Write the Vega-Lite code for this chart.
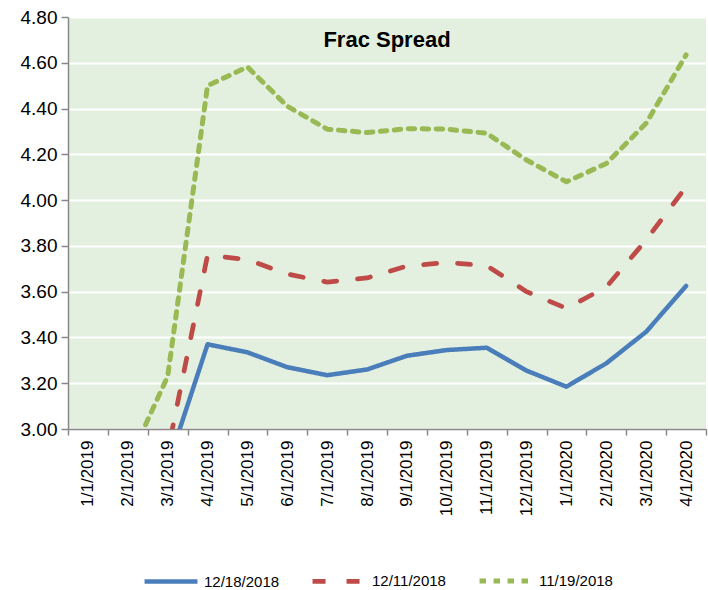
{
  "$schema": "https://vega.github.io/schema/vega-lite/v6.json",
  "width": 638,
  "height": 412,
  "autosize": {"type": "none"},
  "padding": {"left": 68, "top": 17, "right": 2, "bottom": 161},
  "background": "white",
  "config": {
    "view": {"fill": "#E3F0DF", "stroke": null},
    "font": "Liberation Sans"
  },
  "title": {"text": "Frac Spread", "fontSize": 22, "fontWeight": "bold", "offset": -44, "anchor": "middle", "color": "black", "font": "Liberation Sans"},
  "data": {
    "values": [
      {"month": "1/1/2019", "series": "12/18/2018", "value": 2.75},
      {"month": "2/1/2019", "series": "12/18/2018", "value": 2.78},
      {"month": "3/1/2019", "series": "12/18/2018", "value": 2.84},
      {"month": "4/1/2019", "series": "12/18/2018", "value": 3.37},
      {"month": "5/1/2019", "series": "12/18/2018", "value": 3.335},
      {"month": "6/1/2019", "series": "12/18/2018", "value": 3.27},
      {"month": "7/1/2019", "series": "12/18/2018", "value": 3.235},
      {"month": "8/1/2019", "series": "12/18/2018", "value": 3.26},
      {"month": "9/1/2019", "series": "12/18/2018", "value": 3.32},
      {"month": "10/1/2019", "series": "12/18/2018", "value": 3.345},
      {"month": "11/1/2019", "series": "12/18/2018", "value": 3.355},
      {"month": "12/1/2019", "series": "12/18/2018", "value": 3.255},
      {"month": "1/1/2020", "series": "12/18/2018", "value": 3.185},
      {"month": "2/1/2020", "series": "12/18/2018", "value": 3.287},
      {"month": "3/1/2020", "series": "12/18/2018", "value": 3.425},
      {"month": "4/1/2020", "series": "12/18/2018", "value": 3.625},
      {"month": "1/1/2019", "series": "12/11/2018", "value": 2.75},
      {"month": "2/1/2019", "series": "12/11/2018", "value": 2.8},
      {"month": "3/1/2019", "series": "12/11/2018", "value": 2.9},
      {"month": "4/1/2019", "series": "12/11/2018", "value": 3.76},
      {"month": "5/1/2019", "series": "12/11/2018", "value": 3.74},
      {"month": "6/1/2019", "series": "12/11/2018", "value": 3.677},
      {"month": "7/1/2019", "series": "12/11/2018", "value": 3.642},
      {"month": "8/1/2019", "series": "12/11/2018", "value": 3.66},
      {"month": "9/1/2019", "series": "12/11/2018", "value": 3.712},
      {"month": "10/1/2019", "series": "12/11/2018", "value": 3.727},
      {"month": "11/1/2019", "series": "12/11/2018", "value": 3.714},
      {"month": "12/1/2019", "series": "12/11/2018", "value": 3.6},
      {"month": "1/1/2020", "series": "12/11/2018", "value": 3.527},
      {"month": "2/1/2020", "series": "12/11/2018", "value": 3.62},
      {"month": "3/1/2020", "series": "12/11/2018", "value": 3.826},
      {"month": "4/1/2020", "series": "12/11/2018", "value": 4.058},
      {"month": "1/1/2019", "series": "11/19/2018", "value": 2.8},
      {"month": "2/1/2019", "series": "11/19/2018", "value": 2.85},
      {"month": "3/1/2019", "series": "11/19/2018", "value": 3.23},
      {"month": "4/1/2019", "series": "11/19/2018", "value": 4.5},
      {"month": "5/1/2019", "series": "11/19/2018", "value": 4.582},
      {"month": "6/1/2019", "series": "11/19/2018", "value": 4.41},
      {"month": "7/1/2019", "series": "11/19/2018", "value": 4.31},
      {"month": "8/1/2019", "series": "11/19/2018", "value": 4.295},
      {"month": "9/1/2019", "series": "11/19/2018", "value": 4.312},
      {"month": "10/1/2019", "series": "11/19/2018", "value": 4.31},
      {"month": "11/1/2019", "series": "11/19/2018", "value": 4.292},
      {"month": "12/1/2019", "series": "11/19/2018", "value": 4.175},
      {"month": "1/1/2020", "series": "11/19/2018", "value": 4.08},
      {"month": "2/1/2020", "series": "11/19/2018", "value": 4.16},
      {"month": "3/1/2020", "series": "11/19/2018", "value": 4.336},
      {"month": "4/1/2020", "series": "11/19/2018", "value": 4.634}
    ]
  },
  "mark": {"type": "line", "clip": true, "strokeCap": "round", "strokeJoin": "round"},
  "encoding": {
    "x": {
      "field": "month", "type": "ordinal", "sort": null, "bandPosition": 0.5,
      "scale": {"type": "band", "paddingInner": 0, "paddingOuter": 0},
      "axis": {"title": null, "labelAngle": -90, "tickBand": "extent", "labelFontSize": 17, "labelColor": "black", "domainColor": "#888888", "domainWidth": 1.5, "tickColor": "#888888", "tickWidth": 1.5, "tickSize": 6, "labelPadding": 5, "grid": false}
    },
    "y": {
      "field": "value", "type": "quantitative",
      "scale": {"domain": [3, 4.8], "nice": false, "zero": false},
      "axis": {"title": null, "format": ".2f", "values": [3, 3.2, 3.4, 3.6, 3.8, 4, 4.2, 4.4, 4.6, 4.8], "gridColor": "white", "gridWidth": 2, "domainColor": "#888888", "domainWidth": 1.5, "tickColor": "#888888", "tickWidth": 1.5, "tickSize": 7, "labelFontSize": 19, "labelColor": "black", "labelPadding": 4}
    },
    "color": {
      "field": "series", "type": "nominal",
      "scale": {"domain": ["12/18/2018", "12/11/2018", "11/19/2018"], "range": ["#4A7EBB", "#BE4B48", "#98B954"]},
      "legend": {"title": null, "orient": "none", "legendX": 74, "legendY": 535, "direction": "horizontal", "symbolType": "stroke", "symbolSize": 2800, "labelFontSize": 15, "labelColor": "black", "columnPadding": 23, "labelOffset": 4}
    },
    "strokeDash": {
      "field": "series", "type": "nominal",
      "scale": {"domain": ["12/18/2018", "12/11/2018", "11/19/2018"], "range": [[1, 0], [13, 21], [6.5, 7.5]]},
      "legend": {"title": null, "orient": "none", "legendX": 74, "legendY": 535, "direction": "horizontal", "symbolType": "stroke", "symbolSize": 2800, "labelFontSize": 15, "labelColor": "black", "columnPadding": 23, "labelOffset": 4}
    },
    "strokeWidth": {
      "field": "series", "type": "nominal",
      "scale": {"domain": ["12/18/2018", "12/11/2018", "11/19/2018"], "range": [4.5, 5, 3.5]},
      "legend": {"title": null, "orient": "none", "legendX": 74, "legendY": 535, "direction": "horizontal", "symbolType": "stroke", "symbolSize": 2800, "labelFontSize": 15, "labelColor": "black", "columnPadding": 23, "labelOffset": 4}
    }
  }
}
